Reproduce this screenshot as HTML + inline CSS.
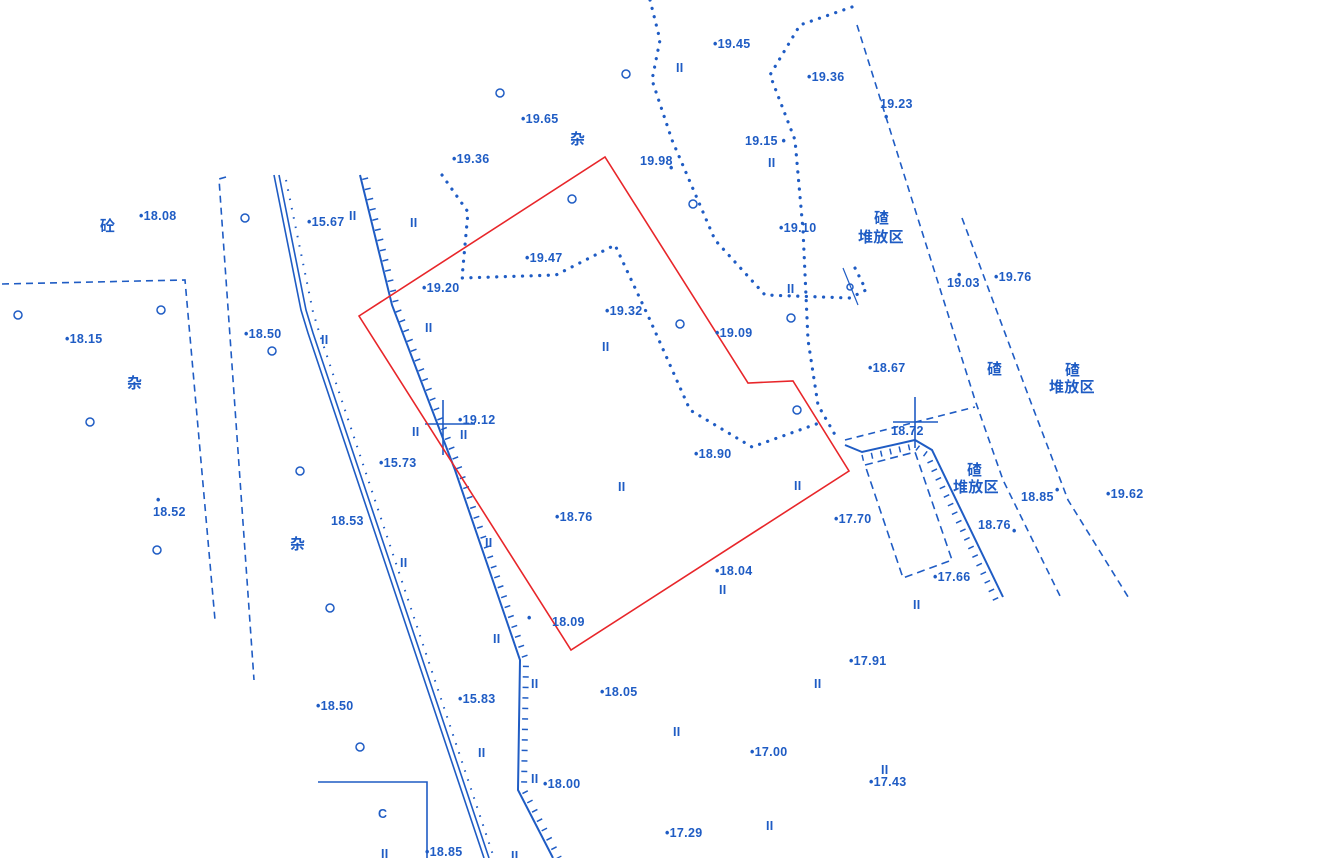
<!DOCTYPE html>
<html><head><meta charset="utf-8"><style>
html,body{margin:0;padding:0;background:#fff;}
svg{display:block}
text{font-family:"Liberation Sans","Noto Sans CJK SC",sans-serif;fill:#1f5cc4;font-size:12.5px;font-weight:bold;letter-spacing:0.3px}
.cn{font-size:15px;font-weight:bold}
</style></head><body>
<svg width="1343" height="858" viewBox="0 0 1343 858" xmlns="http://www.w3.org/2000/svg">
<g fill="none" stroke="#1f5cc4" stroke-width="1.6">
<polyline points="2,284 185,280 215,620" stroke-dasharray="7,5"/>
<polyline points="226,177 219,179 254,680" stroke-dasharray="7,5"/>
<polyline points="274,175 301,310 308,333 484,858"/>
<polyline points="279,175 306,310 313,333 489,858"/>
<polyline points="286,180 313,312 320,335 494,858" stroke-dasharray="1.5,8" stroke-width="2"/>
<polyline points="360,175 392,305 455,470 520,660 518,790 553,858" stroke-width="2"/>
<polyline points="365,178 397,307 460,470 526,660 524,790 559,858" stroke-dasharray="1.5,9" stroke-width="6"/>
<g stroke-dasharray="0.1,8.5" stroke-width="3.2" stroke-linecap="round">
<polyline points="442,175 468,212 462,278 556,275 615,245 650,320 690,410 752,447 822,422"/>
<polyline points="650,0 660,40 652,80 672,140 715,240 765,295 850,298 866,290 852,262"/>
<polyline points="852,7 800,25 770,75 795,140 803,230 808,340 818,405 838,440"/>
</g>
<polyline points="857,25 975,400 1003,480 1062,600" stroke-dasharray="7,5"/>
<polyline points="962,218 1030,400 1068,500 1130,600" stroke-dasharray="7,5"/>
<polyline points="845,440 975,407" stroke-dasharray="7,5"/>
<polygon points="865,465 915,452 952,560 903,578" stroke-dasharray="8,5"/>
<polyline points="845,445 862,452 915,440 932,450 1003,597" stroke-width="2"/>
<polyline points="862,458 915,446 927,455 996,600" stroke-dasharray="1.5,8" stroke-width="6"/>
<line x1="843" y1="268" x2="858" y2="305" stroke-width="1.2"/>
<line x1="443" y1="400" x2="443" y2="455"/><line x1="425" y1="424" x2="475" y2="424"/>
<line x1="915" y1="397" x2="915" y2="448"/><line x1="893" y1="422" x2="938" y2="422"/>
<polyline points="318,782 427,782 427,858"/>
</g>
<polygon points="359,316 605,157 748,383 793,381 849,471 571,650" fill="none" stroke="#e8262a" stroke-width="1.6"/>
<g fill="none" stroke="#1f5cc4" stroke-width="1.5">
<circle cx="626" cy="74" r="4"/><circle cx="500" cy="93" r="4"/><circle cx="572" cy="199" r="4"/><circle cx="693" cy="204" r="4"/><circle cx="245" cy="218" r="4"/><circle cx="161" cy="310" r="4"/><circle cx="18" cy="315" r="4"/><circle cx="272" cy="351" r="4"/><circle cx="680" cy="324" r="4"/><circle cx="791" cy="318" r="4"/><circle cx="797" cy="410" r="4"/><circle cx="90" cy="422" r="4"/><circle cx="300" cy="471" r="4"/><circle cx="157" cy="550" r="4"/><circle cx="330" cy="608" r="4"/><circle cx="360" cy="747" r="4"/><circle cx="850" cy="287" r="3"/>
</g>
<g>
<text x="713" y="48">•19.45</text>
<text x="807" y="81">•19.36</text>
<text x="880" y="108">19.23</text><text x="884" y="121">•</text>
<text x="521" y="123">•19.65</text>
<text x="452" y="163">•19.36</text>
<text x="640" y="165">19.98</text><text x="669" y="172">•</text>
<text x="745" y="145">19.15 •</text>
<text x="139" y="220">•18.08</text>
<text x="307" y="226">•15.67</text>
<text x="779" y="232">•19.10</text>
<text x="525" y="262">•19.47</text>
<text x="422" y="292">•19.20</text>
<text x="947" y="287">19.03</text><text x="957" y="279">•</text>
<text x="994" y="281">•19.76</text>
<text x="605" y="315">•19.32</text>
<text x="715" y="337">•19.09</text>
<text x="65" y="343">•18.15</text>
<text x="244" y="338">•18.50</text>
<text x="868" y="372">•18.67</text>
<text x="458" y="424">•19.12</text>
<text x="379" y="467">•15.73</text>
<text x="694" y="458">•18.90</text>
<text x="891" y="435">18.72</text>
<text x="156" y="504">•</text><text x="153" y="516">18.52</text>
<text x="555" y="521">•18.76</text>
<text x="834" y="523">•17.70</text>
<text x="331" y="525">18.53</text>
<text x="1021" y="501">18.85</text><text x="1055" y="494">•</text>
<text x="1106" y="498">•19.62</text>
<text x="978" y="529">18.76</text><text x="1012" y="535">•</text>
<text x="715" y="575">•18.04</text>
<text x="933" y="581">•17.66</text>
<text x="527" y="622">•</text><text x="552" y="626">18.09</text>
<text x="849" y="665">•17.91</text>
<text x="600" y="696">•18.05</text>
<text x="316" y="710">•18.50</text>
<text x="458" y="703">•15.83</text>
<text x="750" y="756">•17.00</text>
<text x="869" y="786">•17.43</text>
<text x="543" y="788">•18.00</text>
<text x="665" y="837">•17.29</text>
<text x="425" y="856">•18.85</text>
</g>
<g>
<text x="676" y="72">II</text><text x="768" y="167">II</text><text x="410" y="227">II</text><text x="349" y="220">II</text><text x="425" y="332">II</text><text x="321" y="344">II</text><text x="602" y="351">II</text><text x="787" y="293">II</text><text x="412" y="436">II</text><text x="460" y="439">II</text><text x="618" y="491">II</text><text x="794" y="490">II</text><text x="485" y="547">II</text><text x="400" y="567">II</text><text x="493" y="643">II</text><text x="531" y="688">II</text><text x="719" y="594">II</text><text x="913" y="609">II</text><text x="814" y="688">II</text><text x="673" y="736">II</text><text x="478" y="757">II</text><text x="531" y="783">II</text><text x="881" y="774">II</text><text x="766" y="830">II</text><text x="381" y="858">II</text><text x="511" y="860">II</text>
</g>
<g>
<text class="cn" x="100" y="231">砼</text>
<text class="cn" x="570" y="144">杂</text>
<text class="cn" x="127" y="388">杂</text>
<text class="cn" x="290" y="549">杂</text>
<text class="cn" x="874" y="223">碴</text>
<text class="cn" x="858" y="242">堆放区</text>
<text class="cn" x="987" y="374">碴</text>
<text class="cn" x="1065" y="375">碴</text>
<text class="cn" x="1049" y="392">堆放区</text>
<text class="cn" x="967" y="475">碴</text>
<text class="cn" x="953" y="492">堆放区</text>
<text x="378" y="818" font-size="13">C</text>
</g>
</svg>
</body></html>
